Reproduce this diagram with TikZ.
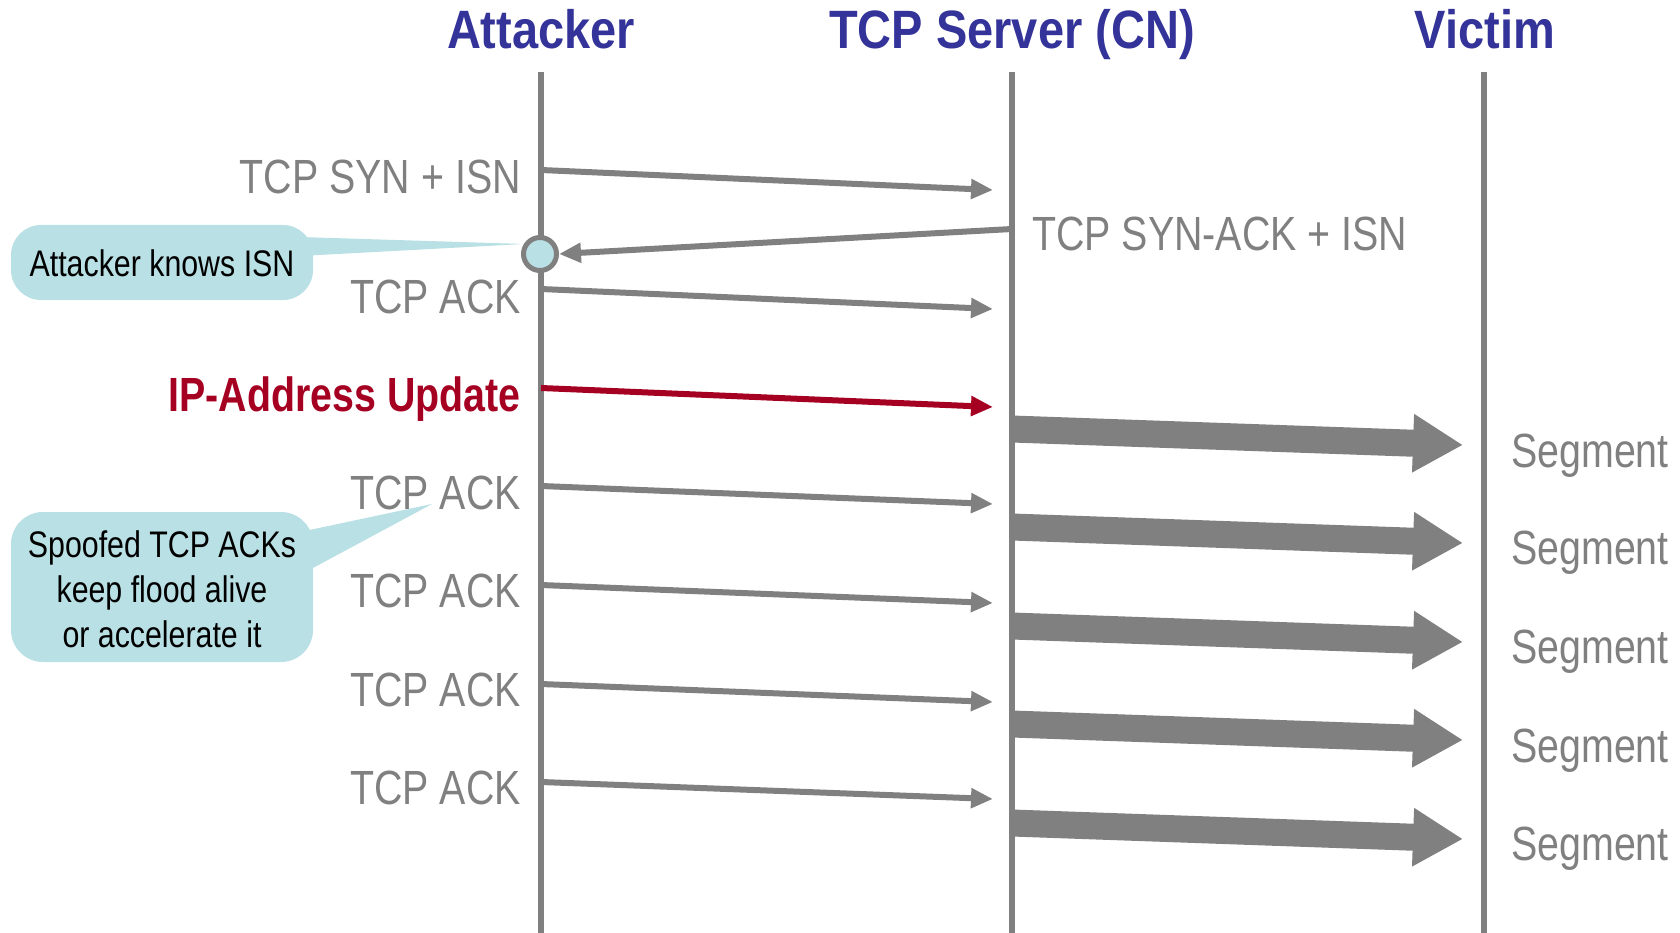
\documentclass[tikz,border=0pt]{standalone}
\usepackage{fontspec}
\setmainfont{Liberation Sans}
\newfontfamily\narrowf[FakeStretch=0.82]{Liberation Sans}
\newfontfamily\headf[FakeStretch=0.87]{Liberation Sans}
\usetikzlibrary{arrows.meta}
\definecolor{lifegray}{RGB}{128,128,128}
\definecolor{hblue}{RGB}{51,51,153}
\definecolor{ipred}{RGB}{165,0,33}
\definecolor{callfill}{RGB}{185,224,228}
\begin{document}
\begin{tikzpicture}[x=1pt,y=-1pt,
  header/.style={font=\headf\bfseries\fontsize{54}{60}\selectfont, text=hblue, inner sep=0, anchor=base},
  msg/.style={font=\narrowf\fontsize{48}{54}\selectfont, text=lifegray, inner sep=0},
  redmsg/.style={font=\narrowf\bfseries\fontsize{48}{54}\selectfont, text=ipred, inner sep=0},
  calltext/.style={font=\narrowf\fontsize{37}{45}\selectfont, text=black, inner sep=0, align=center},
  lifeline/.style={draw=lifegray, line width=6.5},
  thinarrow/.style={draw=lifegray, line width=6, -{Triangle[length=22pt,width=19pt]}},
  redarrow/.style={draw=ipred, line width=6, -{Triangle[length=22pt,width=19pt]}},
  bigarrow/.style={draw=lifegray, line width=27, -{Triangle[length=50pt,width=55pt]}},
  callout/.style={fill=callfill, draw=none},
]
\useasboundingbox (0,0) rectangle (1680,933);

% headers
\node[header] (hA) at (541,49) {Attacker};
\node[header] (hS) at (1012,49) {TCP Server (CN)};
\node[header] (hV) at (1485,49) {Victim};

% lifelines
\coordinate (Atop) at (541,72);  \coordinate (Abot) at (541,933);
\coordinate (Stop) at (1012,72); \coordinate (Sbot) at (1012,933);
\coordinate (Vtop) at (1484,72); \coordinate (Vbot) at (1484,933);
\draw[lifeline] (Atop) -- (Abot);
\draw[lifeline] (Stop) -- (Sbot);
\draw[lifeline] (Vtop) -- (Vbot);

% callout 1
\coordinate (c1tip) at (524,244);
\fill[callout] (300,237) -- (c1tip) -- (300,256) -- cycle;
\fill[callout, rounded corners=30] (11,225) rectangle (313,300);
\node[calltext] (c1) at (162,263.5) {Attacker knows ISN};

% callout 2
\coordinate (c2tip) at (432,504);
\fill[callout] (300,532) -- (c2tip) -- (300,575) -- cycle;
\fill[callout, rounded corners=32] (11,512) rectangle (313,662);
\node[calltext] (c2) at (162,589) {Spoofed TCP ACKs\\keep flood alive\\or accelerate it};

% handshake
\coordinate (syn0) at (541,170); \coordinate (syn1) at (993,190);
\draw[thinarrow] (syn0) -- (syn1);
\node[msg, anchor=base east] (lsyn) at (521,194) {TCP SYN + ISN};

\node[circle, draw=lifegray, line width=5, fill=callfill, minimum size=33, inner sep=0] (know) at (540,254) {};
\coordinate (sa0) at (1012,229);
\draw[thinarrow] (sa0) -- (know.east);
\node[msg, anchor=base west] (lsa) at (1032,251) {TCP SYN-ACK + ISN};

\coordinate (ack0) at (541,289); \coordinate (ack1) at (993,309);
\draw[thinarrow] (ack0) -- (ack1);
\node[msg, anchor=base east] (lack0) at (521,313) {TCP ACK};

% IP address update
\coordinate (ip0) at (541,388); \coordinate (ip1) at (993,407);
\draw[redarrow] (ip0) -- (ip1);
\node[redmsg, anchor=base east] (lip) at (521,411) {IP-Address Update};

% spoofed ACKs
\foreach \i/\ys/\ye/\yl in {1/486/504/509, 2/585/603/607, 3/684/702/706, 4/782/799/804} {
  \coordinate (sa\i) at (541,\ys);
  \coordinate (se\i) at (993,\ye);
  \draw[thinarrow] (sa\i) -- (se\i);
  \node[msg, anchor=base east] (lack\i) at (521,\yl) {TCP ACK};
}

% segments
\foreach \i/\ys/\ye/\yl in {1/429/445/467, 2/527/543/564, 3/626/642/663, 4/724/740/762, 5/823/839/860} {
  \coordinate (bs\i) at (1012,\ys);
  \coordinate (be\i) at (1463,\ye);
  \draw[bigarrow] (bs\i) -- (be\i);
  \node[msg, anchor=base west] (seg\i) at (1511,\yl) {Segment};
}
\end{tikzpicture}
\end{document}
